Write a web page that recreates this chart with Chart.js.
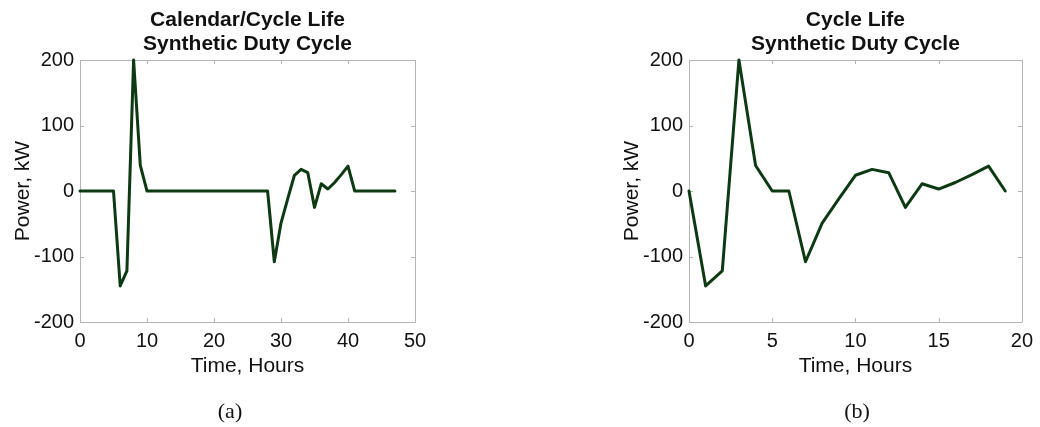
<!DOCTYPE html>
<html>
<head>
<meta charset="utf-8">
<title>Synthetic Duty Cycles</title>
<script src="https://cdn.jsdelivr.net/npm/chart.js@4.4.1/dist/chart.umd.min.js"></script>
<style>
  html, body { margin: 0; padding: 0; background: #ffffff; }
  #wrap { position: relative; width: 1040px; height: 427px; overflow: hidden; }
  .panel { position: absolute; top: 0; width: 520px; height: 427px; }
  .cap {
    position: absolute; top: 411px; transform: translate(-50%, -50%);
    font-family: "Liberation Serif", "Times New Roman", serif;
    font-size: 22px; color: #111111; white-space: nowrap;
  }
</style>
</head>
<body>
<div id="wrap">
  <div class="panel" style="left:0px"><canvas id="chartA" width="520" height="427"></canvas></div>
  <div class="panel" style="left:520px"><canvas id="chartB" width="520" height="427"></canvas></div>
  <div class="cap" style="left:230px">(a)</div>
  <div class="cap" style="left:857px">(b)</div>
</div>
<script>
// ---- Calendar/Cycle life duty cycle (48 hours) ----
const hoursA = [0, 1, 2, 3, 4, 5, 6, 7, 8, 9, 10, 11, 12, 13, 14, 15, 16, 17, 18, 19,
                20, 21, 22, 23, 24, 25, 26, 27, 28, 29, 30, 31, 32, 33, 34, 35, 36, 37, 38, 39,
                40, 41, 42, 43, 44, 45, 46, 47];
const powerA = [0, 0, 0, 0, 0, 0, -145, -122, 200, 39, 0, 0, 0, 0, 0, 0, 0, 0, 0, 0,
                0, 0, 0, 0, 0, 0, 0, 0, 0, -108, -49, -12, 24, 33, 28, -25, 11, 3, 13, 25,
                38, 0, 0, 0, 0, 0, 0, 0];

// ---- Cycle life duty cycle (20 hours) ----
const hoursB = [0, 1, 2, 3, 4, 5, 6, 7, 8, 9, 10, 11, 12, 13, 14, 15, 16, 17, 18, 19];
const powerB = [0, -145, -122, 200, 39, 0, 0, -108, -49, -12, 24, 33, 28, -25, 11, 3, 13, 25, 38, 0];

// ---- Axis ranges and tick spacing ----
const xRangeA = [0, 50];
const xStepA = 10;
const xRangeB = [0, 20];
const xStepB = 5;
const yRange = [-200, 200];
const yStep = 100;

const titleA = ['Calendar/Cycle Life', 'Synthetic Duty Cycle'];
const titleB = ['Cycle Life', 'Synthetic Duty Cycle'];
const xLabel = 'Time, Hours';
const yLabel = 'Power, kW';

const SANS = '"Liberation Sans", Arial, Helvetica, sans-serif';
const TEXT = '#111111';
const FRAME = '#b4b4b4';
const LINE = '#0d3a12';

// Boxed axes with short inward tick marks on all four sides
const boxFrame = {
  id: 'boxFrame',
  beforeDatasetsDraw(chart) {
    const { ctx, chartArea: a, scales } = chart;
    const tick = 4;
    ctx.save();
    ctx.strokeStyle = FRAME;
    ctx.lineWidth = 1;
    ctx.beginPath();
    ctx.rect(Math.round(a.left) + 0.5, Math.round(a.top) + 0.5,
             Math.round(a.right - a.left), Math.round(a.bottom - a.top));
    ctx.stroke();
    ctx.beginPath();
    scales.x.ticks.forEach(t => {
      const px = Math.round(scales.x.getPixelForValue(t.value)) + 0.5;
      ctx.moveTo(px, a.bottom); ctx.lineTo(px, a.bottom - tick);
      ctx.moveTo(px, a.top); ctx.lineTo(px, a.top + tick);
    });
    scales.y.ticks.forEach(t => {
      const py = Math.round(scales.y.getPixelForValue(t.value)) + 0.5;
      ctx.moveTo(a.left, py); ctx.lineTo(a.left + tick, py);
      ctx.moveTo(a.right, py); ctx.lineTo(a.right - tick, py);
    });
    ctx.stroke();
    ctx.restore();
  }
};

function makeChart(canvasId, hours, power, title, xRange, xStep, padLeft, padRight) {
  const points = hours.map((h, i) => ({ x: h, y: power[i] }));
  return new Chart(document.getElementById(canvasId), {
    type: 'line',
    data: {
      datasets: [{
        data: points,
        borderColor: LINE,
        borderWidth: 3,
        borderJoinStyle: 'round',
        borderCapStyle: 'round',
        pointRadius: 0,
        tension: 0,
        fill: false,
        clip: false
      }]
    },
    options: {
      responsive: false,
      animation: false,
      devicePixelRatio: 1,
      layout: { padding: { left: padLeft, right: padRight, top: 0, bottom: 45 } },
      plugins: {
        legend: { display: false },
        tooltip: { enabled: false },
        title: {
          display: true,
          text: title,
          fullSize: false,
          color: TEXT,
          font: { family: SANS, size: 21, weight: 'bold', lineHeight: 24 / 21 },
          padding: { top: 8.5, bottom: 3.5 }
        }
      },
      scales: {
        x: {
          type: 'linear',
          min: xRange[0],
          max: xRange[1],
          afterFit(s) { s.height = 60; },
          grid: { display: false, drawTicks: false },
          border: { display: false },
          ticks: {
            stepSize: xStep,
            color: TEXT,
            padding: 7,
            maxRotation: 0,
            font: { family: SANS, size: 20 }
          },
          title: {
            display: true,
            text: xLabel,
            color: TEXT,
            font: { family: SANS, size: 21 },
            padding: { top: 4, bottom: 3 }
          }
        },
        y: {
          type: 'linear',
          min: yRange[0],
          max: yRange[1],
          afterFit(s) { s.width = 80; },
          grid: { display: false, drawTicks: false },
          border: { display: false },
          ticks: {
            stepSize: yStep,
            color: TEXT,
            padding: 6,
            font: { family: SANS, size: 20 }
          },
          title: {
            display: true,
            text: yLabel,
            color: TEXT,
            font: { family: SANS, size: 21 },
            padding: { top: 11, bottom: 2 }
          }
        }
      }
    },
    plugins: [boxFrame]
  });
}

makeChart('chartA', hoursA, powerA, titleA, xRangeA, xStepA, 0, 105);
makeChart('chartB', hoursB, powerB, titleB, xRangeB, xStepB, 89, 16);
</script>
</body>
</html>
